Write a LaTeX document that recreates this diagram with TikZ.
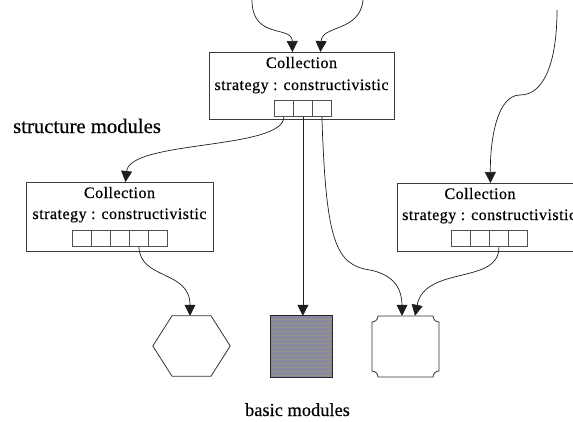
\documentclass[tikz,border=0pt]{standalone}
\usepackage{fontspec}
\setmainfont[FakeBold=0.4]{Liberation Serif}
\newfontfamily\boxfont[LetterSpace=3,FakeBold=0.4]{Liberation Serif}
\usetikzlibrary{arrows.meta,calc}
\definecolor{lineclr}{RGB}{30,30,30}
\definecolor{boxclr}{RGB}{60,60,60}
\definecolor{sqclr}{RGB}{80,80,80}
\definecolor{grayfill}{RGB}{136,136,158}
\definecolor{stripeclr}{RGB}{160,160,115}
\begin{document}
\begin{tikzpicture}[x=1pt,y=-1pt,
  box/.style={draw=boxclr, line width=0.9pt, inner sep=0, anchor=north west},
  sq/.style={draw=sqclr, line width=0.8pt, minimum width=19pt, minimum height=16pt, inner sep=0, anchor=north west},
  ctext/.style={font=\boxfont\fontsize{16}{16}\selectfont, inner sep=0, anchor=base},
  conn/.style={draw=lineclr, line width=0.7pt, -{Triangle[length=11pt,width=11pt]}},
  shp/.style={draw=black!80, line width=0.8pt},
  stripe/.style={draw=stripeclr, densely dotted, line width=1pt},
  lbl/.style={inner sep=0, anchor=base west}
]
\useasboundingbox (0,0) rectangle (573,421);
\clip (0,0) rectangle (573,421);

% top box
\node[box, minimum width=185pt, minimum height=67pt] (T) at (209,52) {};
\node[ctext] (Tc) at (301.5,68) {Collection};
\node[ctext] (Ts) at (301.5,90) {strategy : constructivistic};
\node[sq] (t1) at (274,100) {};
\node[sq] (t2) at (293,100) {};
\node[sq] (t3) at (312,100) {};

% left box
\node[box, minimum width=187pt, minimum height=69pt] (L) at (26,182) {};
\node[ctext] (Lc) at (119.5,198) {Collection};
\node[ctext] (Ls) at (119.5,219) {strategy : constructivistic};
\node[sq] (l1) at (72,230) {};
\node[sq] (l2) at (91,230) {};
\node[sq] (l3) at (110,230) {};
\node[sq] (l4) at (129,230) {};
\node[sq] (l5) at (148,230) {};

% right box
\node[box, minimum width=190pt, minimum height=68pt] (R) at (397,183) {};
\node[ctext] (Rc) at (480,199) {Collection};
\node[ctext, anchor=base west] (Rs) at (402,220) {strategy : constructivistic};
\node[sq] (r1) at (451,230) {};
\node[sq] (r2) at (470,230) {};
\node[sq] (r3) at (489,230) {};
\node[sq] (r4) at (508,230) {};

% basic modules
\node[minimum width=77pt, minimum height=60pt, inner sep=0] (hex) at (191.5,346) {};
\draw[shp] (hex.west) -- ($(hex.north)+(-19.5,0)$) -- ($(hex.north)+(19.5,0)$) -- (hex.east)
  -- ($(hex.south)+(19.5,0)$) -- ($(hex.south)+(-19.5,0)$) -- cycle;

\node[fill=grayfill, minimum width=61pt, minimum height=61pt, inner sep=0] (gs) at (301.5,346.5) {};
\foreach \yy in {319.5,323.5,...,375.5}{
  \draw[stripe] (272,\yy) -- (331,\yy);
}
\draw[draw=black!85, line width=0.9pt] (gs.north west) rectangle (gs.south east);

\node[minimum width=67pt, minimum height=61pt, inner sep=0] (oct) at (405.5,346.5) {};
\draw[shp] (378,316) -- (433,316) .. controls (433,319.3) and (435.7,322) .. (439,322)
  -- (439,371) .. controls (435.7,371) and (433,373.7) .. (433,377)
  -- (378,377) .. controls (378,373.7) and (375.3,371) .. (372,371)
  -- (372,322) .. controls (375.3,322) and (378,319.3) .. (378,316) -- cycle;

% labels
\node[lbl, font=\fontsize{20.7}{20.7}\selectfont] (sm) at (13,133) {structure modules};
\node[inner sep=0, anchor=base, font=\fontsize{18.4}{18.4}\selectfont] (bm) at (297.5,416) {basic modules};

% incoming free ends
\coordinate (in1) at (252,0);
\coordinate (in2) at (363,0);
\coordinate (in3) at (557,10);

% connectors
\draw[conn] (in1) .. controls (252,40) and (292,25) .. ($(T.north)+(-9.5,0)$);
\draw[conn] (in2) .. controls (360,32) and (322,25) .. ($(T.north)+(18.5,0)$);
\draw[conn] (in3) .. controls (557,60) and (545,95) .. (520,95) .. controls (497,95) and (490,140) .. ($(R.north)+(-2,0)$);

\draw[conn] (t1.south) .. controls (283.5,150) and (130,140) .. ($(L.north)+(5.5,0)$);
\draw[conn] (t2.south) -- (t2.south |- gs.north);
\draw[conn] (t3.south) .. controls (326,240) and (335,265) .. (370,270) .. controls (395,275) and (402,290) .. ($(oct.north)+(-3.5,0)$);
\draw[conn] (r3.south) .. controls (500,285) and (425,265) .. ($(oct.north)+(9.5,0)$);
\draw[conn] (l4.south) .. controls (140,280) and (190,270) .. ($(hex.north)+(-1.5,0)$);
\end{tikzpicture}
\end{document}
